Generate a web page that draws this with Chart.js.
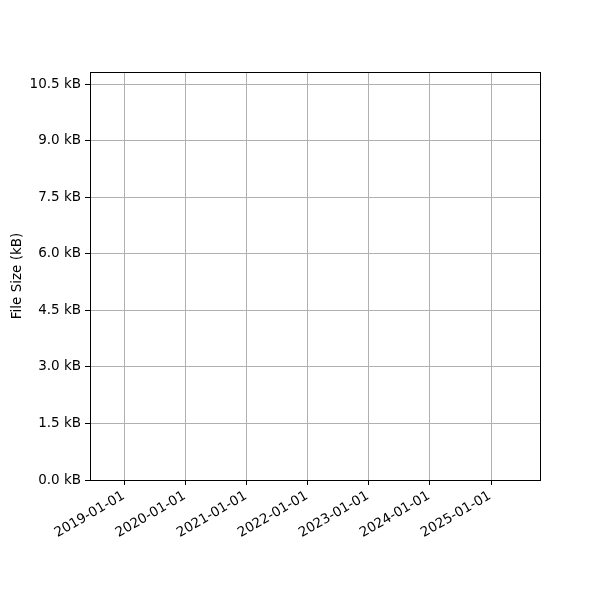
<!DOCTYPE html>
<html>
<head>
<meta charset="utf-8">
<script src="https://cdn.jsdelivr.net/npm/chart.js@4"></script>
<style>
  html, body { margin: 0; padding: 0; background: #fff; }
</style>
</head>
<body>
<canvas id="sizeChart" width="600" height="600"></canvas>
<script>
// --- datos (la serie está vacía en la figura) ---
const dates = [];
const sizes = [];
const xTickLabels = ['2019-01-01', '2020-01-01', '2021-01-01', '2022-01-01', '2023-01-01', '2024-01-01', '2025-01-01'];
const yTicks = [0, 1.5, 3.0, 4.5, 6.0, 7.5, 9.0, 10.5];
const xMinDate = '2018-06-07';
const xMaxDate = '2025-10-21';
const yMax = 10.82;

const toMs = s => Date.parse(s + 'T00:00:00Z');

// marco completo alrededor del área del gráfico
const frame = {
    id: 'frame',
    afterDraw(chart) {
        const { ctx, chartArea: a } = chart;
        ctx.save();
        ctx.strokeStyle = '#000';
        ctx.lineWidth = 1;
        ctx.strokeRect(a.left + 0.5, a.top + 0.5, a.right - a.left, a.bottom - a.top);
        ctx.restore();
    }
};

Chart.defaults.font.family = "'DejaVu Sans', sans-serif";
Chart.defaults.font.size = 13.5;
Chart.defaults.color = '#000';

new Chart(document.getElementById('sizeChart'), {
    type: 'line',
    data: {
        datasets: [{
            label: 'File Size',
            data: dates.map((d, i) => ({ x: toMs(d), y: sizes[i] })),
            borderColor: '#1f77b4',
            fill: false
        }]
    },
    options: {
        responsive: false,
        devicePixelRatio: 1,
        animation: false,
        layout: { padding: { top: 72, right: 60, left: 0, bottom: 0 } },
        plugins: { legend: { display: false }, tooltip: { enabled: false } },
        scales: {
            x: {
                type: 'linear',
                min: toMs(xMinDate),
                max: toMs(xMaxDate),
                afterBuildTicks: scale => {
                    scale.ticks = xTickLabels.map(s => ({ value: toMs(s) }));
                },
                afterFit: scale => { scale.height = 120; },
                ticks: {
                    autoSkip: false,
                    minRotation: 30,
                    maxRotation: 30,
                    padding: 3,
                    labelOffset: -1,
                    callback: v => new Date(v).toISOString().slice(0, 10)
                },
                grid: { color: '#b0b0b0', tickColor: '#000', tickLength: 5, lineWidth: 1 },
                border: { color: '#000', width: 1 }
            },
            y: {
                type: 'linear',
                min: 0,
                max: yMax,
                afterBuildTicks: scale => {
                    scale.ticks = yTicks.map(v => ({ value: v }));
                },
                afterFit: scale => { scale.width = 90; },
                ticks: {
                    padding: 4,
                    callback: v => v.toFixed(1) + ' kB'
                },
                title: {
                    display: true,
                    text: 'File Size (kB)',
                    padding: { top: 9, bottom: 0 }
                },
                grid: { color: '#b0b0b0', tickColor: '#000', tickLength: 5, lineWidth: 1 },
                border: { color: '#000', width: 1 }
            }
        }
    },
    plugins: [frame]
});
</script>
</body>
</html>
